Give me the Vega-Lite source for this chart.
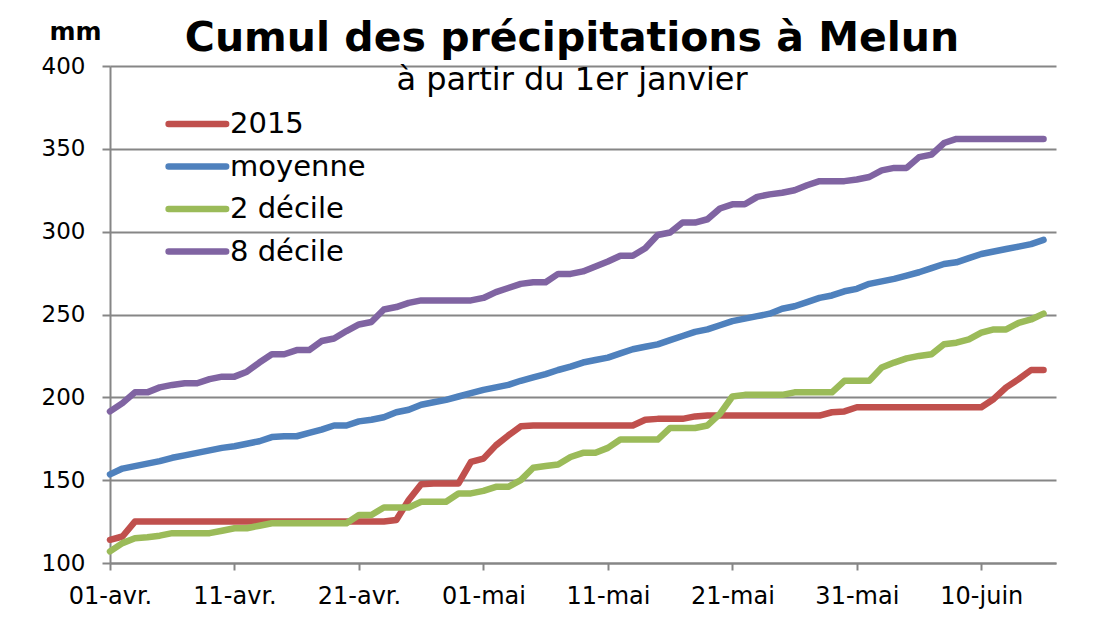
{
"$schema": "https://vega.github.io/schema/vega-lite/v6.json",
"width": 946, "height": 497,
"autosize": {"type": "none"},
"padding": {"left": 110, "top": 66, "right": 42, "bottom": 80},
"background": "white",
"title": {"text": "Cumul des précipitations à Melun", "subtitle": "à partir du 1er janvier", "anchor": "middle", "dx": -11, "offset": -78, "font": "DejaVu Sans", "fontSize": 41, "fontWeight": "bold", "color": "black", "subtitleFont": "DejaVu Sans", "subtitleFontSize": 32, "subtitleColor": "black", "subtitlePadding": 5},
"config": {"view": {"stroke": null}},
"data": {"values": [
{"date":"2015-04-01","2015":114,"moyenne":153.5,"2 décile":107,"8 décile":191.5},
{"date":"2015-04-02","2015":116,"moyenne":157,"2 décile":112,"8 décile":196.5},
{"date":"2015-04-03","2015":125,"moyenne":158.5,"2 décile":115,"8 décile":203},
{"date":"2015-04-04","2015":125,"moyenne":160,"2 décile":115.5,"8 décile":203},
{"date":"2015-04-05","2015":125,"moyenne":161.5,"2 décile":116.5,"8 décile":206},
{"date":"2015-04-06","2015":125,"moyenne":163.5,"2 décile":118,"8 décile":207.5},
{"date":"2015-04-07","2015":125,"moyenne":165,"2 décile":118,"8 décile":208.5},
{"date":"2015-04-08","2015":125,"moyenne":166.5,"2 décile":118,"8 décile":208.5},
{"date":"2015-04-09","2015":125,"moyenne":168,"2 décile":118,"8 décile":211},
{"date":"2015-04-10","2015":125,"moyenne":169.5,"2 décile":119.5,"8 décile":212.5},
{"date":"2015-04-11","2015":125,"moyenne":170.5,"2 décile":121,"8 décile":212.5},
{"date":"2015-04-12","2015":125,"moyenne":172,"2 décile":121,"8 décile":215.5},
{"date":"2015-04-13","2015":125,"moyenne":173.5,"2 décile":122.5,"8 décile":221},
{"date":"2015-04-14","2015":125,"moyenne":176,"2 décile":124,"8 décile":226},
{"date":"2015-04-15","2015":125,"moyenne":176.5,"2 décile":124,"8 décile":226},
{"date":"2015-04-16","2015":125,"moyenne":176.5,"2 décile":124,"8 décile":228.5},
{"date":"2015-04-17","2015":125,"moyenne":178.5,"2 décile":124,"8 décile":228.5},
{"date":"2015-04-18","2015":125,"moyenne":180.5,"2 décile":124,"8 décile":234},
{"date":"2015-04-19","2015":125,"moyenne":183,"2 décile":124,"8 décile":235.5},
{"date":"2015-04-20","2015":125,"moyenne":183,"2 décile":124,"8 décile":240},
{"date":"2015-04-21","2015":125,"moyenne":185.5,"2 décile":129,"8 décile":244},
{"date":"2015-04-22","2015":125,"moyenne":186.5,"2 décile":129,"8 décile":245.5},
{"date":"2015-04-23","2015":125,"moyenne":188,"2 décile":133.5,"8 décile":253},
{"date":"2015-04-24","2015":126,"moyenne":191,"2 décile":133.5,"8 décile":254.5},
{"date":"2015-04-25","2015":138,"moyenne":192.5,"2 décile":133.5,"8 décile":257},
{"date":"2015-04-26","2015":147.5,"moyenne":195.5,"2 décile":137,"8 décile":258.5},
{"date":"2015-04-27","2015":148,"moyenne":197,"2 décile":137,"8 décile":258.5},
{"date":"2015-04-28","2015":148,"moyenne":198.5,"2 décile":137,"8 décile":258.5},
{"date":"2015-04-29","2015":148,"moyenne":200.5,"2 décile":142,"8 décile":258.5},
{"date":"2015-04-30","2015":161,"moyenne":202.5,"2 décile":142,"8 décile":258.5},
{"date":"2015-05-01","2015":163,"moyenne":204.5,"2 décile":143.5,"8 décile":260},
{"date":"2015-05-02","2015":171,"moyenne":206,"2 décile":146,"8 décile":263.5},
{"date":"2015-05-03","2015":177,"moyenne":207.5,"2 décile":146,"8 décile":266},
{"date":"2015-05-04","2015":182.5,"moyenne":210,"2 décile":150,"8 décile":268.5},
{"date":"2015-05-05","2015":183,"moyenne":212,"2 décile":157.5,"8 décile":269.5},
{"date":"2015-05-06","2015":183,"moyenne":214,"2 décile":158.5,"8 décile":269.5},
{"date":"2015-05-07","2015":183,"moyenne":216.5,"2 décile":159.5,"8 décile":274.5},
{"date":"2015-05-08","2015":183,"moyenne":218.5,"2 décile":164,"8 décile":274.5},
{"date":"2015-05-09","2015":183,"moyenne":221,"2 décile":166.5,"8 décile":276},
{"date":"2015-05-10","2015":183,"moyenne":222.5,"2 décile":166.5,"8 décile":279},
{"date":"2015-05-11","2015":183,"moyenne":224,"2 décile":169.5,"8 décile":282},
{"date":"2015-05-12","2015":183,"moyenne":226.5,"2 décile":174.5,"8 décile":285.5},
{"date":"2015-05-13","2015":183,"moyenne":229,"2 décile":174.5,"8 décile":285.5},
{"date":"2015-05-14","2015":186.5,"moyenne":230.5,"2 décile":174.5,"8 décile":290},
{"date":"2015-05-15","2015":187,"moyenne":232,"2 décile":174.5,"8 décile":298},
{"date":"2015-05-16","2015":187,"moyenne":234.5,"2 décile":181.5,"8 décile":299.5},
{"date":"2015-05-17","2015":187,"moyenne":237,"2 décile":181.5,"8 décile":305.5},
{"date":"2015-05-18","2015":188.5,"moyenne":239.5,"2 décile":181.5,"8 décile":305.5},
{"date":"2015-05-19","2015":189,"moyenne":241,"2 décile":183,"8 décile":307.5},
{"date":"2015-05-20","2015":189,"moyenne":243.5,"2 décile":190,"8 décile":314},
{"date":"2015-05-21","2015":189,"moyenne":246,"2 décile":200.5,"8 décile":316.5},
{"date":"2015-05-22","2015":189,"moyenne":247.5,"2 décile":201.5,"8 décile":316.5},
{"date":"2015-05-23","2015":189,"moyenne":249,"2 décile":201.5,"8 décile":321},
{"date":"2015-05-24","2015":189,"moyenne":250.5,"2 décile":201.5,"8 décile":322.5},
{"date":"2015-05-25","2015":189,"moyenne":253.5,"2 décile":201.5,"8 décile":323.5},
{"date":"2015-05-26","2015":189,"moyenne":255,"2 décile":203,"8 décile":325},
{"date":"2015-05-27","2015":189,"moyenne":257.5,"2 décile":203,"8 décile":328},
{"date":"2015-05-28","2015":189,"moyenne":260,"2 décile":203,"8 décile":330.5},
{"date":"2015-05-29","2015":191,"moyenne":261.5,"2 décile":203,"8 décile":330.5},
{"date":"2015-05-30","2015":191.5,"moyenne":264,"2 décile":210,"8 décile":330.5},
{"date":"2015-05-31","2015":194,"moyenne":265.5,"2 décile":210,"8 décile":331.5},
{"date":"2015-06-01","2015":194,"moyenne":268.5,"2 décile":210,"8 décile":333},
{"date":"2015-06-02","2015":194,"moyenne":270,"2 décile":218,"8 décile":337},
{"date":"2015-06-03","2015":194,"moyenne":271.5,"2 décile":221,"8 décile":338.5},
{"date":"2015-06-04","2015":194,"moyenne":273.5,"2 décile":223.5,"8 décile":338.5},
{"date":"2015-06-05","2015":194,"moyenne":275.5,"2 décile":225,"8 décile":345},
{"date":"2015-06-06","2015":194,"moyenne":278,"2 décile":226,"8 décile":346.5},
{"date":"2015-06-07","2015":194,"moyenne":280.5,"2 décile":232,"8 décile":353.5},
{"date":"2015-06-08","2015":194,"moyenne":281.5,"2 décile":233,"8 décile":356},
{"date":"2015-06-09","2015":194,"moyenne":284,"2 décile":235,"8 décile":356},
{"date":"2015-06-10","2015":194,"moyenne":286.5,"2 décile":239,"8 décile":356},
{"date":"2015-06-11","2015":199,"moyenne":288,"2 décile":241,"8 décile":356},
{"date":"2015-06-12","2015":206,"moyenne":289.5,"2 décile":241,"8 décile":356},
{"date":"2015-06-13","2015":211,"moyenne":291,"2 décile":245,"8 décile":356},
{"date":"2015-06-14","2015":216.5,"moyenne":292.5,"2 décile":247,"8 décile":356},
{"date":"2015-06-15","2015":216.5,"moyenne":295,"2 décile":250.5,"8 décile":356}
]},
"transform": [{"fold": ["2015", "moyenne", "2 décile", "8 décile"], "as": ["serie", "mm"]}],
"mark": {"type": "line", "strokeWidth": 6.5, "strokeCap": "round", "strokeJoin": "round"},
"encoding": {
"x": {"field": "date", "type": "temporal",
 "scale": {"type": "utc", "domain": [{"year": 2015, "month": 4, "date": 1, "utc": true}, {"year": 2015, "month": 6, "date": 16, "utc": true}]},
 "axis": {"title": null, "grid": false,
  "values": [{"year":2015,"month":4,"date":1,"utc":true},{"year":2015,"month":4,"date":11,"utc":true},{"year":2015,"month":4,"date":21,"utc":true},{"year":2015,"month":5,"date":1,"utc":true},{"year":2015,"month":5,"date":11,"utc":true},{"year":2015,"month":5,"date":21,"utc":true},{"year":2015,"month":5,"date":31,"utc":true},{"year":2015,"month":6,"date":10,"utc":true}],
  "labelExpr": "utcFormat(datum.value, '%d') + '-' + ['janv.','févr.','mars','avr.','mai','juin','juil.'][utcmonth(datum.value)]",
  "labelFont": "DejaVu Sans", "labelFontSize": 24, "labelColor": "black", "labelPadding": 14, "labelFlush": false, "labelOverlap": false,
  "tickSize": 7, "tickColor": "#868686", "tickWidth": 2, "domainColor": "#868686", "domainWidth": 2}},
"y": {"field": "mm", "type": "quantitative",
 "scale": {"domain": [100, 400], "nice": false, "zero": false},
 "axis": {"values": [100, 150, 200, 250, 300, 350, 400], "title": "mm", "titleAngle": 0, "titleX": -35, "titleY": -27, "titleAlign": "center", "titleBaseline": "alphabetic", "titleFont": "DejaVu Sans", "titleFontSize": 25, "titleFontWeight": "bold", "titleColor": "black",
  "labelFont": "DejaVu Sans", "labelFontSize": 23, "labelColor": "black", "labelPadding": 17,
  "tickSize": 8, "tickColor": "#868686", "tickWidth": 2, "domainColor": "#868686", "domainWidth": 2,
  "grid": true, "gridColor": "#868686", "gridWidth": 2}},
"color": {"field": "serie", "type": "nominal",
 "scale": {"domain": ["2015", "moyenne", "2 décile", "8 décile"], "range": ["#C0504D", "#4F81BD", "#9BBB59", "#8064A2"]},
 "legend": {"title": null, "orient": "none", "legendX": 55, "legendY": 40, "padding": 0,
  "symbolType": "M-1,0H3", "symbolSize": 827, "symbolStrokeWidth": 6.5, "labelFont": "DejaVu Sans", "labelFontSize": 29, "labelColor": "black", "labelOffset": 29, "rowPadding": 9.5,
  "encode": {"symbols": {"update": {"strokeCap": {"value": "round"}, "fill": {"value": "transparent"}}}}}}
}
}
